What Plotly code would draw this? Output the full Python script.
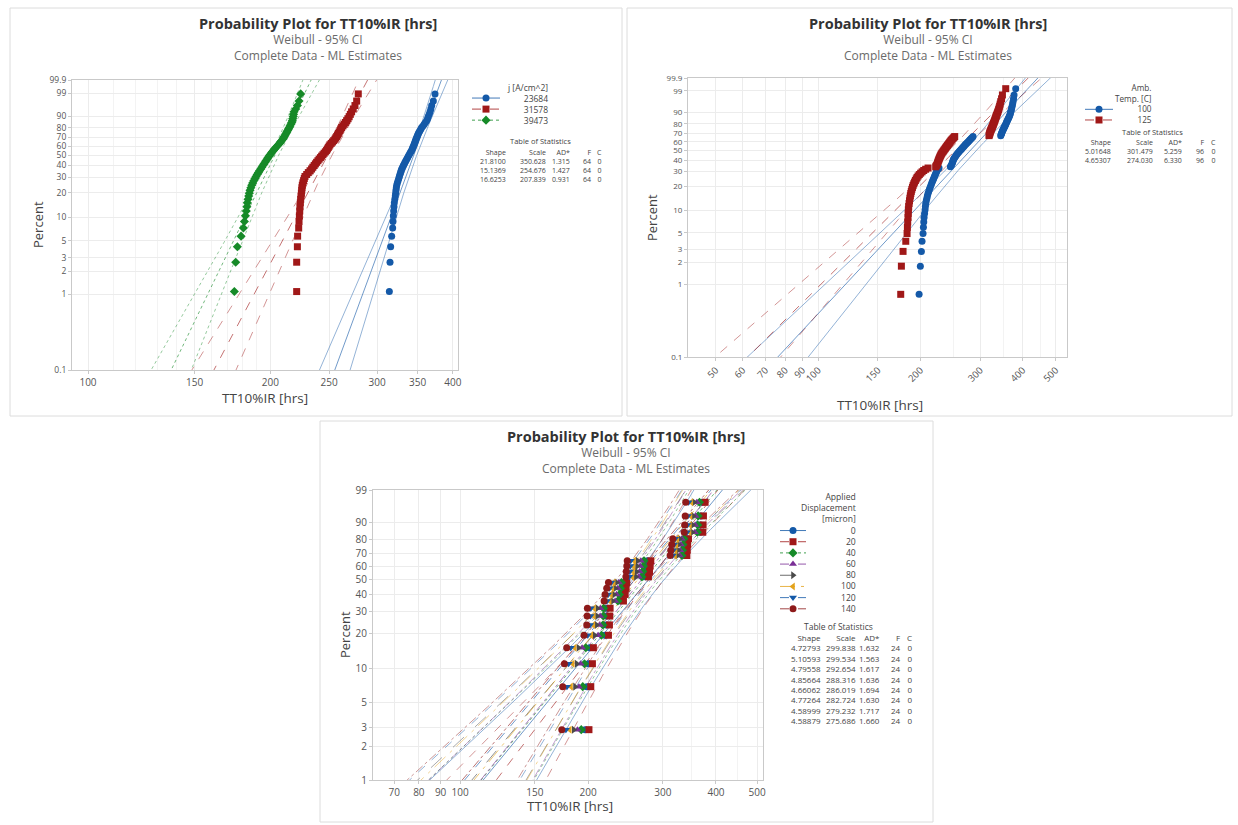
import numpy as np
import plotly.graph_objects as go

W, H = 1238, 825

# ---------------- data: current density groups (64 units each) ----------------
j_levels = ["23684", "31578", "39473"]
j_shape = [21.8100, 15.1369, 16.6253]
j_scale = [350.628, 254.676, 207.839]
j_ad = ["1.315", "1.427", "0.931"]
j_n = 64

tt_j23684 = [
    314.3, 315.1, 315.9, 317.1, 318.3, 318.7, 319.1, 319.5, 319.9, 320.3,
    320.9, 321.5, 321.9, 322.3, 322.8, 323.2, 324.0, 324.9, 325.7, 326.5,
    327.2, 328.0, 328.7, 329.4, 330.5, 331.5, 332.6, 333.6, 334.7, 335.7,
    336.8, 337.8, 338.9, 339.9, 341.0, 342.1, 342.9, 343.6, 344.4, 345.2,
    345.8, 346.5, 347.1, 347.8, 348.6, 349.3, 350.1, 350.9, 352.0, 353.2,
    354.3, 355.4, 357.1, 358.8, 360.5, 362.2, 363.4, 364.5, 365.7, 366.9,
    368.0, 369.2, 371.5, 373.9]
tt_j31578 = [
    221.0, 221.0, 221.6, 221.8, 222.7, 223.0, 223.3, 223.6, 223.8, 224.1,
    224.4, 224.7, 225.0, 225.3, 225.5, 225.8, 226.3, 226.9, 227.5, 228.1,
    229.6, 231.0, 232.5, 233.9, 235.0, 236.2, 237.3, 238.4, 239.6, 240.7,
    241.9, 243.0, 244.2, 245.3, 246.5, 247.6, 248.4, 249.2, 250.0, 250.8,
    252.0, 253.2, 254.4, 255.6, 256.4, 257.3, 258.1, 258.9, 259.7, 260.6,
    261.4, 262.2, 263.5, 264.7, 266.0, 267.2, 268.5, 269.8, 271.0, 272.3,
    274.0, 275.8, 277.6, 279.3]
tt_j39473 = [
    174.4, 175.3, 176.4, 178.9, 180.5, 181.2, 181.9, 182.5, 182.9, 183.2,
    183.7, 184.2, 184.6, 185.1, 185.7, 186.3, 187.0, 187.8, 188.6, 189.4,
    190.2, 191.1, 191.9, 192.8, 193.6, 194.4, 195.2, 196.0, 196.7, 197.5,
    198.2, 199.0, 199.8, 200.6, 201.5, 202.3, 203.2, 204.2, 205.1, 206.1,
    207.0, 207.9, 208.7, 209.6, 210.3, 210.9, 211.6, 212.2, 212.9, 213.6,
    214.2, 214.9, 215.5, 216.2, 216.8, 217.4, 217.7, 218.1, 218.4, 218.8,
    220.2, 221.6, 223.0, 224.4]

# ---------------- data: ambient temperature groups (96 units each) ----------------
temp_levels = ["100", "125"]
temp_shape = [5.01648, 4.65307]
temp_scale = [301.479, 274.030]
temp_ad = ["5.259", "6.330"]
temp_n = 96

tt_t100 = [
    198.2, 199.9, 201.3, 202.2, 203.6, 204.1, 204.6, 205.0, 205.7, 206.4,
    206.8, 207.3, 208.1, 208.9, 209.7, 210.6, 211.6, 212.6, 213.6, 214.6,
    215.6, 216.6, 217.5, 218.5, 219.4, 220.3, 221.2, 222.1, 223.0, 223.9,
    225.4, 226.9,
    245.0, 246.2, 247.3, 248.0, 248.6, 249.3, 249.9, 250.6, 251.7, 252.9,
    254.0, 255.2, 256.4, 257.9, 259.4, 260.9, 262.5, 264.0, 265.4, 266.8,
    268.3, 269.7, 271.2, 272.8, 274.4, 276.1, 277.7, 279.3, 280.9, 282.5,
    284.1, 285.7,
    344.6, 345.4, 346.2, 347.0, 347.8, 348.6, 349.7, 350.8, 351.9, 353.0,
    354.0, 355.1, 356.2, 357.4, 358.5, 359.6, 360.9, 362.2, 363.5, 364.9,
    366.2, 367.2, 368.2, 369.2, 370.2, 371.2, 372.3, 373.5, 374.6, 375.9,
    377.2, 381.4]
tt_t125 = [
    175.0, 175.8, 177.8, 181.1, 182.7, 183.1, 183.5, 183.9, 184.1, 184.3,
    184.7, 185.2, 185.7, 186.3, 186.8, 187.4, 188.0, 188.7, 189.5, 190.3,
    191.2, 192.2, 193.3, 194.4, 195.5, 196.9, 198.5, 200.3, 202.3, 204.5,
    207.2, 210.6,
    221.8, 222.8, 223.9, 224.5, 225.1, 225.7, 226.3, 226.9, 227.6, 228.3,
    229.0, 229.8, 230.5, 231.5, 232.6, 233.7, 234.7, 235.8, 236.9, 237.9,
    239.0, 240.1, 241.2, 242.3, 243.4, 244.5, 245.6, 246.7, 248.1, 249.5,
    250.9, 252.3,
    318.4, 319.0, 319.6, 320.2, 320.8, 321.4, 322.3, 323.2, 324.0, 324.9,
    325.8, 326.7, 327.6, 328.4, 329.3, 330.2, 331.1, 332.0, 332.9, 333.8,
    334.7, 335.9, 337.1, 338.4, 339.6, 340.8, 342.1, 343.3, 344.6, 346.6,
    348.6, 356.5]

# ---------------- data: applied displacement groups (24 units each) ----------------
disp_levels = ["0", "20", "40", "60", "80", "100", "120", "140"]
disp_shape = [4.72793, 5.10593, 4.79558, 4.85664, 4.66062, 4.77264, 4.58999, 4.58879]
disp_scale = [299.838, 299.534, 292.654, 288.316, 286.019, 282.724, 279.232, 275.686]
disp_ad = ["1.632", "1.563", "1.617", "1.636", "1.694", "1.630", "1.717", "1.660"]
disp_n = 24

tt_d0 = [196.9, 198.7, 200.5, 201.7, 219.2, 220.7, 221.1, 221.5, 238.7, 240.7, 242.1, 243.2,
         272.6, 274.1, 275.0, 276.0, 337.2, 338.0, 338.8, 340.4, 367.0, 367.7, 368.4, 371.5]
tt_d20 = [201.0, 203.0, 204.8, 205.9, 223.4, 224.6, 225.0, 225.4, 242.3, 244.5, 245.8, 246.7,
          277.4, 279.0, 280.0, 281.0, 341.6, 342.4, 343.0, 344.6, 372.4, 373.0, 373.7, 377.1]
tt_d40 = [192.8, 194.4, 196.2, 197.6, 215.1, 216.8, 217.2, 217.6, 235.1, 237.0, 238.5, 239.7,
          267.8, 269.1, 270.0, 270.9, 332.7, 333.6, 334.5, 336.2, 361.7, 362.4, 363.1, 365.8]
tt_d60 = [188.9, 190.4, 192.1, 193.7, 211.2, 213.2, 213.6, 213.9, 231.7, 233.4, 235.0, 236.4,
          263.4, 264.5, 265.3, 266.2, 328.6, 329.5, 330.6, 332.2, 356.7, 357.4, 358.2, 360.6]
tt_d80 = [185.1, 186.4, 188.1, 189.8, 207.3, 209.5, 209.9, 210.3, 228.3, 229.9, 231.6, 233.2,
          258.9, 259.9, 260.7, 261.5, 324.4, 325.4, 326.6, 328.3, 351.7, 352.4, 353.3, 355.3]
tt_d100 = [181.2, 182.4, 184.1, 186.0, 203.5, 205.9, 206.3, 206.6, 224.9, 226.4, 228.2, 229.9,
           254.4, 255.2, 256.0, 256.7, 320.3, 321.3, 322.7, 324.4, 346.7, 347.4, 348.4, 350.0]
tt_d120 = [177.4, 178.4, 180.0, 182.1, 199.6, 202.2, 202.6, 203.0, 221.6, 222.8, 224.7, 226.7,
           250.0, 250.6, 251.4, 252.0, 316.1, 317.2, 318.7, 320.4, 341.7, 342.5, 343.4, 344.8]
tt_d140 = [173.5, 174.4, 176.0, 178.2, 195.7, 198.6, 199.0, 199.3, 218.2, 219.3, 221.3, 223.4,
           245.5, 246.0, 246.7, 247.3, 312.0, 313.1, 314.8, 316.5, 336.7, 337.5, 338.5, 339.5]

pct_ticks_full = [0.1, 1, 2, 3, 5, 10, 20, 30, 40, 50, 60, 70, 80, 90, 99, 99.9]
pct_ticks_short = [1, 2, 3, 5, 10, 20, 30, 40, 50, 60, 70, 80, 90, 99]
x_ticks_1 = [100, 150, 200, 250, 300, 350, 400]
x_ticks_2 = [50, 60, 70, 80, 90, 100, 150, 200, 300, 400, 500]
x_ticks_3 = [70, 80, 90, 100, 150, 200, 300, 400, 500]

# ---------------- styling ----------------
FONT = "Open Sans"
BLUE, RED, GREEN = "#1459a8", "#a01818", "#168a28"
PURPLE, GRAY, GOLD, DKRED = "#7a2f96", "#4a4a4a", "#e3a21a", "#8e1a1a"
GRID = "#ececec"
AXLINE = "#c9c9c9"
TICKC = "#555555"
LINE_SPACING = 1.3   # plotly's multi-line annotation line height, in em


def wq(p):
    """Weibull probability-paper coordinate for a fraction p."""
    p = np.asarray(p, dtype=float)
    return np.log(-np.log(1.0 - p))


def median_ranks(n):
    i = np.arange(1, n + 1)
    return (i - 0.3) / (n + 0.4)


def fit_and_ci(shape, scale, n, wlo, whi):
    """ML Weibull fit line with 95% normal-approximation bounds on percentiles."""
    w = np.linspace(wlo - 0.6, whi + 0.6, 240)
    sig = 1.0 / shape
    u = np.log(scale) + sig * w
    se = sig * np.sqrt((1.1087 + 0.5140 * w + 0.6079 * w ** 2) / n)
    return w, np.exp(u), np.exp(u - 1.96 * se), np.exp(u + 1.96 * se)


fig = go.Figure()

# plot-area pixel boxes: (left, right, top, bottom)
boxes = {
    1: (72, 458, 80, 370),
    2: (688, 1067, 78, 357),
    3: (373, 763, 490, 780),
}
yr_full = [float(wq(0.001)), float(wq(0.999))]
yr_short = [float(wq(0.01)), float(wq(0.99))]


def add_lines(xs_n, shape, scale, color, dash, ax, yr):
    w, fit, lo, hi = fit_and_ci(shape, scale, xs_n, yr[0], yr[1])
    xa, ya = ("x", "y") if ax == 1 else ("x%d" % ax, "y%d" % ax)
    for arr, op in ((lo, 0.45), (hi, 0.45), (fit, 0.6)):
        fig.add_trace(go.Scatter(x=arr, y=w, mode="lines",
                                 line=dict(color=color, width=1, dash=dash),
                                 opacity=op, xaxis=xa, yaxis=ya,
                                 showlegend=False, hoverinfo="skip"))


def add_points(xs, color, symbol, ax, size=7):
    p = median_ranks(len(xs))
    xa, ya = ("x", "y") if ax == 1 else ("x%d" % ax, "y%d" % ax)
    fig.add_trace(go.Scatter(x=xs, y=wq(p), mode="markers",
                             marker=dict(symbol=symbol, size=size, color=color,
                                         line=dict(width=0)),
                             xaxis=xa, yaxis=ya, showlegend=False))


# ---- panel 1: current density ----
j_data = [tt_j23684, tt_j31578, tt_j39473]
j_style = [(BLUE, "circle", "solid"), (RED, "square", "dash"), (GREEN, "diamond", "dot")]
for k in range(3):
    add_lines(j_n, j_shape[k], j_scale[k], j_style[k][0], j_style[k][2], 1, yr_full)
for k in range(3):
    add_points(j_data[k], j_style[k][0], j_style[k][1], 1)

# ---- panel 2: ambient temperature ----
t_data = [tt_t100, tt_t125]
t_style = [(BLUE, "circle", "solid"), (RED, "square", "dash")]
for k in range(2):
    add_lines(temp_n, temp_shape[k], temp_scale[k], t_style[k][0], t_style[k][2], 2, yr_full)
for k in range(2):
    add_points(t_data[k], t_style[k][0], t_style[k][1], 2)

# ---- panel 3: applied displacement ----
d_data = [tt_d0, tt_d20, tt_d40, tt_d60, tt_d80, tt_d100, tt_d120, tt_d140]
d_style = [(BLUE, "circle", "solid"), (RED, "square", "dash"), (GREEN, "diamond", "dot"),
           (PURPLE, "triangle-up", "dashdot"), (GRAY, "triangle-right", "longdash"),
           (GOLD, "triangle-left", "longdashdot"), (BLUE, "triangle-down", "dash"),
           (DKRED, "circle", "dashdot")]
for k in range(8):
    add_lines(disp_n, disp_shape[k], disp_scale[k], d_style[k][0], d_style[k][2], 3, yr_short)
for k in range(8):
    add_points(d_data[k], d_style[k][0], d_style[k][1], 3, size=7)


# ---- overlay (pixel) axis for legends, tables and titles ----
def swatch(x0, x1, y, color, symbol, dash):
    fig.add_trace(go.Scatter(x=[x0, x1], y=[y, y], mode="lines",
                             line=dict(color=color, width=1, dash=dash), opacity=0.8,
                             xaxis="x4", yaxis="y4", showlegend=False, hoverinfo="skip"))
    fig.add_trace(go.Scatter(x=[(x0 + x1) / 2], y=[y], mode="markers",
                             marker=dict(symbol=symbol, size=7, color=color),
                             xaxis="x4", yaxis="y4", showlegend=False, hoverinfo="skip"))


annotations = []


def txt(x, y, s, size=10, color="#444", xanchor="center", bold=False, align="center"):
    annotations.append(dict(x=x, y=y, xref="x4", yref="y4", text=("<b>%s</b>" % s) if bold else s,
                            showarrow=False, xanchor=xanchor, yanchor="middle", align=align,
                            font=dict(family=FONT, size=size, color=color)))


def text_block(x, y_first, lines, size, xanchor="right", color="#444"):
    """Multi-line text; returns the centre y of every line."""
    lh = LINE_SPACING * size
    yc = y_first + (len(lines) - 1) / 2.0 * lh
    txt(x, yc, "<br>".join(lines), size=size, xanchor=xanchor, align=xanchor if xanchor != "center" else "center",
        color=color)
    return [y_first + i * lh for i in range(len(lines))]


def legend(x_right, y_first, header, labels, styles, sx0, sx1, size):
    ys = text_block(x_right, y_first, header + labels, size)
    for k, yy in enumerate(ys[len(header):]):
        swatch(sx0, sx1, yy, styles[k][0], styles[k][1], styles[k][2])


def table(cx, ytitle, yhead, col_r, rows, size):
    txt(cx, ytitle, "Table of Statistics", size=size + 0.5, color="#444")
    heads = ["Shape", "Scale", "AD*", "F", "C"]
    for c in range(5):
        text_block(col_r[c], yhead, [heads[c]] + [row[c] for row in rows], size)


# legend + table, panel 1
legend(550, 87, ["j [A/cm^2]"], j_levels, j_style, 472, 500, 8.5)
rows1 = [["%.4f" % j_shape[k], "%.3f" % j_scale[k], j_ad[k], str(j_n), "0"] for k in range(3)]
table(540, 141, 152, [508, 548, 572, 593, 604], rows1, 7)

# legend + table, panel 2
legend(1154, 88, ["Amb.", "Temp. [C]"], temp_levels, t_style, 1085, 1113, 8.2)
rows2 = [["%.5f" % temp_shape[k], "%.3f" % temp_scale[k], temp_ad[k], str(temp_n), "0"] for k in range(2)]
table(1152, 132, 142, [1113, 1155, 1184, 1206, 1218], rows2, 7)

# legend + table, panel 3
legend(858, 497, ["Applied", "Displacement", "[micron]"], disp_levels, d_style, 780, 806, 8.6)
rows3 = [["%.5f" % disp_shape[k], "%.3f" % disp_scale[k], disp_ad[k], str(disp_n), "0"] for k in range(8)]
table(838, 626, 637, [823, 858, 882, 903, 914], rows3, 8)

# titles
for cx, y0 in ((318, 23), (928, 23), (626, 436)):
    txt(cx, y0, "Probability Plot for TT10%IR [hrs]", size=14.5, color="#333", bold=True)
    text_block(cx, y0 + 16.5, ["Weibull - 95% CI", "Complete Data - ML Estimates"], 12,
               xanchor="center", color="#6a6a6a")

# axis titles
for (xl, yl), (xb, yb) in (((38, 225), (265, 398)), ((652, 218), (880, 405)), ((345, 635), (570, 806))):
    annotations.append(dict(x=xl, y=yl, xref="x4", yref="y4", text="Percent", showarrow=False,
                            textangle=-90, font=dict(family=FONT, size=13, color="#444")))
    txt(xb, yb, "TT10%IR [hrs]", size=13.5, color="#444")

# panel frames
shapes = []
for (x0, y0, x1, y1) in ((10, 8, 622, 416), (627, 8, 1232, 416), (320, 421, 933, 822)):
    shapes.append(dict(type="rect", xref="x4", yref="y4", x0=x0, y0=y0, x1=x1, y1=y1,
                       line=dict(color="#dcdcdc", width=1), layer="below"))


def xaxis_cfg(box, rng, ticks, minor_vals, angle=0, fsize=10):
    l, r, t, b = box
    return dict(domain=[l / W, r / W], type="log", range=[np.log10(rng[0]), np.log10(rng[1])],
                tickvals=ticks, ticktext=[str(v) for v in ticks], tickangle=angle,
                ticks="outside", ticklen=3, tickcolor=AXLINE, automargin=False,
                tickfont=dict(family=FONT, size=fsize, color=TICKC),
                showgrid=True, gridcolor=GRID, gridwidth=1,
                minor=dict(tickvals=minor_vals, showgrid=True, gridcolor="#f3f3f3", ticks=""),
                showline=True, linecolor=AXLINE, mirror=True, zeroline=False)


def yaxis_cfg(box, rng, pcts, fsize):
    l, r, t, b = box
    return dict(domain=[1 - b / H, 1 - t / H], range=rng,
                tickvals=[float(v) for v in wq(np.array(pcts) / 100.0)],
                ticktext=[("%g" % v) for v in pcts],
                ticks="outside", ticklen=3, tickcolor=AXLINE, automargin=False,
                tickfont=dict(family=FONT, size=fsize, color=TICKC),
                showgrid=True, gridcolor=GRID, gridwidth=1,
                showline=True, linecolor=AXLINE, mirror=True, zeroline=False)


minor1 = [110, 120, 130, 140, 160, 170, 180, 190]
minor2 = [250, 350, 450]
minor3 = [250, 350, 450]

fig.update_layout(
    width=W, height=H, margin=dict(l=0, r=0, t=0, b=0, pad=0, autoexpand=False),
    paper_bgcolor="white", plot_bgcolor="rgba(0,0,0,0)",
    showlegend=False,
    font=dict(family=FONT, color="#444"),
    xaxis=dict(**xaxis_cfg(boxes[1], (94.1, 408), x_ticks_1, minor1), anchor="y"),
    yaxis=dict(**yaxis_cfg(boxes[1], yr_full, pct_ticks_full, 8.5), anchor="x"),
    xaxis2=dict(**xaxis_cfg(boxes[2], (41.4, 540), x_ticks_2, minor2, angle=-45, fsize=9.5), anchor="y2"),
    yaxis2=dict(**yaxis_cfg(boxes[2], yr_full, pct_ticks_full, 8), anchor="x2"),
    xaxis3=dict(**xaxis_cfg(boxes[3], (62.4, 516), x_ticks_3, minor3), anchor="y3"),
    yaxis3=dict(**yaxis_cfg(boxes[3], yr_short, pct_ticks_short, 10), anchor="x3"),
    xaxis4=dict(domain=[0, 1], range=[0, W], visible=False, fixedrange=True, anchor="y4",
                automargin=False),
    yaxis4=dict(domain=[0, 1], range=[H, 0], visible=False, fixedrange=True, anchor="x4",
                automargin=False),
    annotations=annotations,
    shapes=shapes,
)

fig.write_html("out.html")
